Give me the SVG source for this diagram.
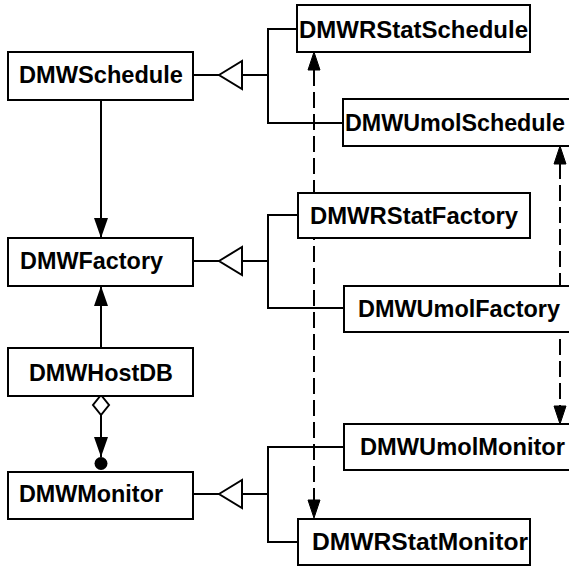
<svg xmlns="http://www.w3.org/2000/svg" width="569" height="566" viewBox="0 0 569 566">
  <style>
    .box { fill: #fff; stroke: #000; stroke-width: 2; }
    .lbl { font-family: "Liberation Sans", Arial, Helvetica, sans-serif; font-weight: bold; font-size: 24px; fill: #000; }
    .ln { fill: none; stroke: #000; stroke-width: 2; }
    .dash { fill: none; stroke: #000; stroke-width: 2; stroke-dasharray: 16 6; }
    .gen { fill: #fff; stroke: #000; stroke-width: 2; stroke-linejoin: miter; }
    .head { fill: #000; stroke: #000; stroke-width: 1; }
  </style>
  <defs>
    <marker id="solidArrow" viewBox="0 0 20 14" refX="20" refY="7" markerWidth="20" markerHeight="14" markerUnits="userSpaceOnUse" orient="auto">
      <path d="M0,0 L20,7 L0,14 Z" fill="#000"/>
    </marker>
  </defs>
  <rect width="569" height="566" fill="#fff"/>

  <!-- connectors (drawn first so the boxes cover the dependency lines) -->
  <g id="connectors">
    <!-- DMWSchedule -> DMWFactory -->
    <line class="ln" x1="101" y1="100" x2="101" y2="238" marker-end="url(#solidArrow)"/>
    <!-- DMWHostDB -> DMWFactory -->
    <line class="ln" x1="101" y1="348" x2="101" y2="286" marker-end="url(#solidArrow)"/>
    <!-- DMWHostDB aggregates DMWMonitor -->
    <line class="ln" x1="101" y1="415" x2="101" y2="457" marker-end="url(#solidArrow)"/>
    <polygon class="gen" points="101,395 109,405 101,415 93,405"/>
    <circle cx="101" cy="463.5" r="6.5" fill="#000"/>

    <!-- generalization: schedules -->
    <line class="ln" x1="193" y1="75" x2="219" y2="75"/>
    <polygon class="gen" points="219,75 242,61 242,89"/>
    <polyline class="ln" points="242,75 268,75"/>
    <polyline class="ln" points="297,29 268,29 268,123 343,123"/>

    <!-- generalization: factories -->
    <line class="ln" x1="193" y1="261" x2="219" y2="261"/>
    <polygon class="gen" points="219,261 242,247 242,275"/>
    <polyline class="ln" points="242,261 268,261"/>
    <polyline class="ln" points="298,215 268,215 268,308 344,308"/>

    <!-- generalization: monitors -->
    <line class="ln" x1="193" y1="494" x2="219" y2="494" stroke-width="3"/>
    <polygon class="gen" points="219,494 242,480 242,508"/>
    <polyline class="ln" points="242,494 268,494"/>
    <polyline class="ln" points="344,447 268,447 268,542 298,542"/>

    <!-- RStat dependencies -->
    <line class="dash" x1="314" y1="70" x2="314" y2="500"/>
    <polygon class="head" points="314,52 320,70 308,70"/>
    <polygon class="head" points="314,518 320,500 308,500"/>

    <!-- Umol dependencies -->
    <line class="dash" x1="560" y1="163" x2="560" y2="406"/>
    <polygon class="head" points="560,146 566,164 554,164"/>
    <polygon class="head" points="560,424 566,406 554,406"/>
  </g>

  <g id="DMWSchedule">
    <rect class="box" x="8" y="52" width="185" height="48"/>
    <text class="lbl" x="19" y="83" textLength="164" lengthAdjust="spacingAndGlyphs">DMWSchedule</text>
  </g>
  <g id="DMWFactory">
    <rect class="box" x="8" y="238" width="185" height="48"/>
    <text class="lbl" x="20" y="269" textLength="143" lengthAdjust="spacingAndGlyphs">DMWFactory</text>
  </g>
  <g id="DMWHostDB">
    <rect class="box" x="8" y="348" width="185" height="48"/>
    <text class="lbl" x="29" y="381" textLength="144" lengthAdjust="spacingAndGlyphs">DMWHostDB</text>
  </g>
  <g id="DMWMonitor">
    <rect class="box" x="8" y="472" width="185" height="47"/>
    <text class="lbl" x="19" y="502" textLength="144" lengthAdjust="spacingAndGlyphs">DMWMonitor</text>
  </g>

  <g id="DMWRStatSchedule">
    <rect class="box" x="297" y="5" width="233" height="47"/>
    <text class="lbl" x="299" y="38" textLength="229" lengthAdjust="spacingAndGlyphs">DMWRStatSchedule</text>
  </g>
  <g id="DMWUmolSchedule">
    <rect class="box" x="343" y="99" width="235" height="47"/>
    <text class="lbl" x="345" y="131" textLength="220" lengthAdjust="spacingAndGlyphs">DMWUmolSchedule</text>
  </g>
  <g id="DMWRStatFactory">
    <rect class="box" x="298" y="193" width="232" height="45"/>
    <text class="lbl" x="310" y="224" textLength="208" lengthAdjust="spacingAndGlyphs">DMWRStatFactory</text>
  </g>
  <g id="DMWUmolFactory">
    <rect class="box" x="344" y="286" width="234" height="46"/>
    <text class="lbl" x="358" y="317" textLength="202" lengthAdjust="spacingAndGlyphs">DMWUmolFactory</text>
  </g>
  <g id="DMWUmolMonitor">
    <rect class="box" x="344" y="424" width="234" height="46"/>
    <text class="lbl" x="360" y="455" textLength="205" lengthAdjust="spacingAndGlyphs">DMWUmolMonitor</text>
  </g>
  <g id="DMWRStatMonitor">
    <rect class="box" x="298" y="519" width="232" height="46"/>
    <text class="lbl" x="312" y="550" textLength="216" lengthAdjust="spacingAndGlyphs">DMWRStatMonitor</text>
  </g>
</svg>
